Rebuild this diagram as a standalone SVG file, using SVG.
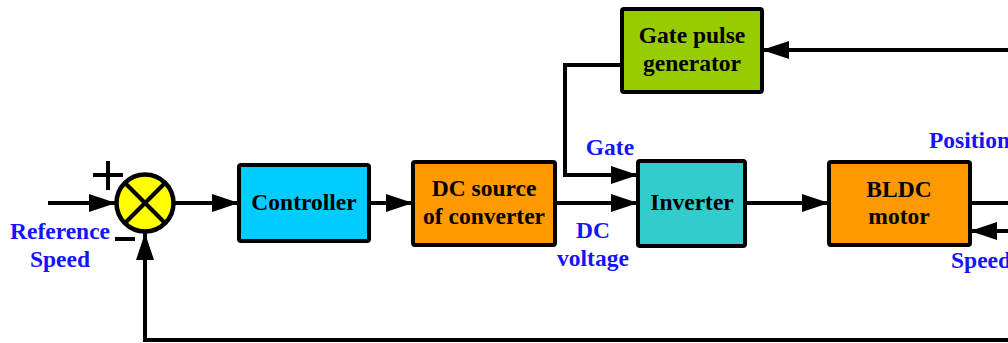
<svg xmlns="http://www.w3.org/2000/svg" width="1008" height="343" viewBox="0 0 1008 343">
<style>
.box{stroke:#000;stroke-width:4;}
.lbl{font-family:"Liberation Serif","Times New Roman",serif;font-weight:bold;font-size:23.5px;fill:#000;text-anchor:middle;}
.blue{font-family:"Liberation Serif","Times New Roman",serif;font-weight:bold;font-size:23.5px;fill:#1414ff;}
.wire{stroke:#000;stroke-width:4;fill:none;}
</style>
<defs>
<marker id="ah" markerUnits="userSpaceOnUse" markerWidth="27" markerHeight="18" refX="27" refY="9" orient="auto">
<path d="M0,0 L27,9 L0,18 z" fill="#000"/>
</marker>
</defs>
<rect width="1008" height="343" fill="#fff"/>
<g id="connectors">
<line class="wire" x1="48" y1="203" x2="116" y2="203" marker-end="url(#ah)"/>
<line class="wire" x1="174" y1="203" x2="239" y2="203" marker-end="url(#ah)"/>
<line class="wire" x1="369" y1="203" x2="413" y2="203" marker-end="url(#ah)"/>
<line class="wire" x1="555" y1="203" x2="638" y2="203" marker-end="url(#ah)"/>
<polyline class="wire" points="622,65 565,65 565,175 638,175" marker-end="url(#ah)"/>
<line class="wire" x1="745" y1="203" x2="829" y2="203" marker-end="url(#ah)"/>
<line class="wire" x1="970" y1="203" x2="1010" y2="203"/>
<line class="wire" x1="1010" y1="231" x2="970" y2="231" marker-end="url(#ah)"/>
<line class="wire" x1="1010" y1="50" x2="762" y2="50" marker-end="url(#ah)"/>
<polyline class="wire" points="1010,340 145,340 145,233" marker-end="url(#ah)"/>
</g>
<g id="sum">
<circle cx="145" cy="203" r="28.5" fill="#ffff00" stroke="#000" stroke-width="4.5"/>
<line class="wire" x1="125" y1="183" x2="165" y2="223"/>
<line class="wire" x1="165" y1="183" x2="125" y2="223"/>
<line class="wire" x1="93" y1="175" x2="123" y2="175"/>
<line class="wire" x1="108" y1="161" x2="108" y2="190"/>
<line class="wire" x1="115" y1="239" x2="135" y2="239"/>
</g>
<g id="controller">
<rect class="box" x="239" y="165" width="130" height="76" rx="2" fill="#00ccff"/>
<text class="lbl" x="304" y="210">Controller</text>
</g>
<g id="dcsource">
<rect class="box" x="413" y="162" width="142" height="83" rx="2" fill="#ff9900"/>
<text class="lbl" x="484" y="196">DC source</text>
<text class="lbl" x="484" y="224">of converter</text>
</g>
<g id="gatepulse">
<rect class="box" x="622" y="9" width="140" height="83" rx="2" fill="#99cc00"/>
<text class="lbl" x="692" y="43">Gate pulse</text>
<text class="lbl" x="692" y="71">generator</text>
</g>
<g id="inverter">
<rect class="box" x="638" y="161" width="107" height="85" rx="2" fill="#33cccc"/>
<text class="lbl" x="692" y="210">Inverter</text>
</g>
<g id="bldc">
<rect class="box" x="829" y="162" width="141" height="83" rx="2" fill="#ff9900"/>
<text class="lbl" x="899" y="197">BLDC</text>
<text class="lbl" x="899" y="224">motor</text>
</g>
<g id="labels">
<text class="blue" x="60" y="239" text-anchor="middle">Reference</text>
<text class="blue" x="60" y="267" text-anchor="middle">Speed</text>
<text class="blue" x="610" y="155" text-anchor="middle">Gate</text>
<text class="blue" x="593" y="238" text-anchor="middle">DC</text>
<text class="blue" x="593" y="266" text-anchor="middle">voltage</text>
<text class="blue" x="929" y="148">Position</text>
<text class="blue" x="951" y="268">Speed</text>
</g>
</svg>
